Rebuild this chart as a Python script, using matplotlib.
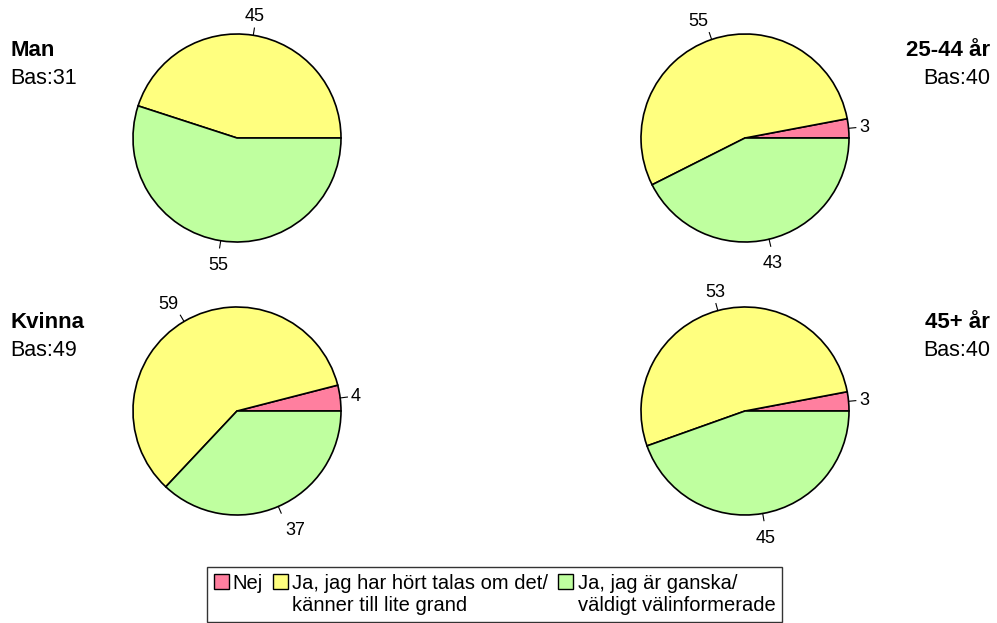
import numpy as np
import matplotlib.pyplot as plt
from matplotlib.patches import Patch

plt.rcParams["font.family"] = ["Liberation Sans", "DejaVu Sans"]

categories = ["Nej",
              "Ja, jag har hört talas om det/\nkänner till lite grand",
              "Ja, jag är ganska/\nväldigt välinformerade"]
colors = ["#FF7F9F", "#FFFF7F", "#BFFF9F"]

groups = ["Man", "25-44 år", "Kvinna", "45+ år"]
bases = [31, 40, 49, 40]
man = [0, 45, 55]
age_25_44 = [3, 55, 43]
kvinna = [4, 59, 37]
age_45 = [3, 53, 45]
values = [man, age_25_44, kvinna, age_45]

# pie layout in pixel coords (y up)
centers = [(237, 485), (745, 485), (237, 212), (745, 212)]
radius = 104

fig = plt.figure(figsize=(9.97, 6.23), dpi=100)
ax = fig.add_axes([0, 0, 1, 1])

for vals, (cx, cy) in zip(values, centers):
    ax.pie(vals, colors=colors, startangle=0, counterclock=True,
           center=(cx, cy), radius=radius,
           wedgeprops=dict(edgecolor="black", linewidth=1.2))
    total = sum(vals)
    start = 0.0
    for v in vals:
        if v == 0:
            continue
        mid = np.deg2rad((start + v / 2) / total * 360)
        start += v
        c, s = np.cos(mid), np.sin(mid)
        ax.plot([cx + radius * c, cx + radius * 1.07 * c],
                [cy + radius * s, cy + radius * 1.07 * s],
                color="black", lw=0.8)
        ha = "left" if c > 0.3 else ("right" if c < -0.3 else "center")
        va = "bottom" if s > 0.3 else ("top" if s < -0.3 else "center")
        dist = 1.16 if va == "top" else 1.1
        ax.text(cx + radius * dist * c, cy + radius * dist * s, str(v),
                ha=ha, va=va, fontsize=13)

# titles
title_pos = [(10, "left", 573, 545), (990, "right", 573, 545),
             (10, "left", 300, 273), (990, "right", 300, 273)]
for name, bas, (x, ha, y1, y2) in zip(groups, bases, title_pos):
    ax.text(x, y1, name, ha=ha, va="center", fontsize=16, fontweight="bold")
    ax.text(x, y2, f"Bas:{bas}", ha=ha, va="center", fontsize=15.5)

ax.set_xlim(0, 997)
ax.set_ylim(0, 623)
ax.set_aspect("auto")
ax.axis("off")

handles = [Patch(facecolor=c, edgecolor="black", linewidth=1) for c in colors]
leg = fig.legend(handles, categories, loc="lower center",
                 bbox_to_anchor=(494.5 / 997, 1 / 623), ncol=3,
                 fontsize=14.5, frameon=True, fancybox=False,
                 edgecolor="black", handlelength=0.75, handleheight=0.75,
                 handletextpad=0.2, columnspacing=0.5, borderpad=0.35,
                 borderaxespad=0)
leg.get_frame().set_linewidth(1)
# put each legend square next to the first line of its label
leg._legend_handle_box.align = "top"
for col in leg._legend_handle_box.get_children():
    for row in col.get_children():
        row.align = "top"

fig.savefig("out.png", dpi=100)
